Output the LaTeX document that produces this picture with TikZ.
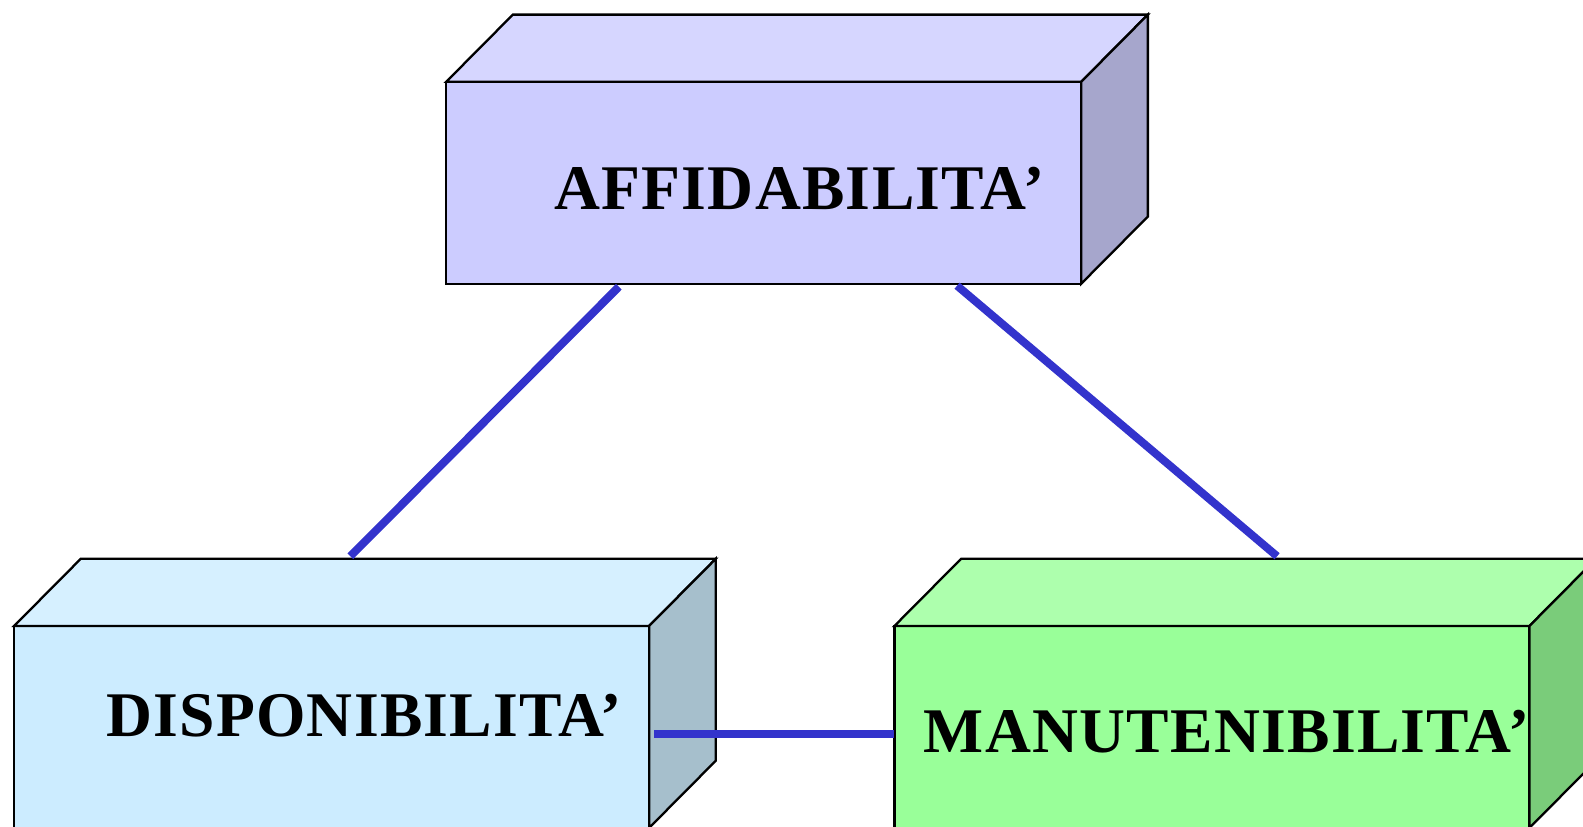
\documentclass[tikz,border=0pt]{standalone}
\usepackage{fontspec}
\setmainfont{Liberation Serif}
\usetikzlibrary{calc}
\definecolor{linkblue}{HTML}{3333CC}
\definecolor{afront}{HTML}{CCCCFF}
\definecolor{atop}{HTML}{D6D6FF}
\definecolor{aside}{HTML}{A6A6CC}
\definecolor{dfront}{HTML}{CCECFF}
\definecolor{dtop}{HTML}{D6F0FF}
\definecolor{dside}{HTML}{A6BFCC}
\definecolor{mfront}{HTML}{99FF99}
\definecolor{mtop}{HTML}{ADFFAD}
\definecolor{mside}{HTML}{7ACC7A}
% #1 name, #2 x1, #3 y1, #4 x2, #5 y2, #6 front, #7 top, #8 side
\newcommand\drawcuboid[8]{%
  \coordinate (#1-nw) at (#2,#3);
  \coordinate (#1-ne) at (#4,#3);
  \coordinate (#1-sw) at (#2,#5);
  \coordinate (#1-se) at (#4,#5);
  \filldraw[boxline,fill=#6] (#1-nw) rectangle (#1-se);
  \filldraw[boxline,fill=#7] (#1-nw) -- ++(66,-66.5) -- ($(#1-ne)+(66,-66.5)$) -- (#1-ne) -- cycle;
  \filldraw[boxline,fill=#8] (#1-ne) -- ++(66,-66.5) -- ($(#1-se)+(66,-66.5)$) -- (#1-se) -- cycle;
}
\begin{document}
\begin{tikzpicture}[x=1.0096pt,y=-1.0096pt,
  boxline/.style={draw=black,line width=2.3pt,line join=miter},
  link/.style={draw=linkblue,line width=8pt},
  lbl/.style={anchor=base west,inner sep=0pt,font=\fontsize{63.6pt}{70pt}\selectfont\bfseries\addfontfeatures{LetterSpace=2}}]
\useasboundingbox (0,0) rectangle (1568,819);
\clip (0,0) rectangle (1568,819);
\drawcuboid{aff}{442}{81}{1071}{281}{afront}{atop}{aside}
\drawcuboid{dis}{14}{620}{643}{820}{dfront}{dtop}{dside}
\drawcuboid{man}{886}{620}{1515}{820}{mfront}{mtop}{mside}
\node[lbl] (taff) at (549,208) {AFFIDABILITA’};
\node[lbl] (tdis) at (105,730) {DISPONIBILITA’};
\node[lbl] (tman) at (915,745) {MANUTENIBILITA’};
\coordinate (a1) at (613,284);
\coordinate (d1) at (347,551);
\coordinate (a2) at (948,283);
\coordinate (m1) at (1265,551);
\coordinate (d2) at (648,727);
\coordinate (m2) at (886,727);
\draw[link] (a1) -- (d1);
\draw[link] (a2) -- (m1);
\draw[link] (d2) -- (m2);
\end{tikzpicture}
\end{document}
